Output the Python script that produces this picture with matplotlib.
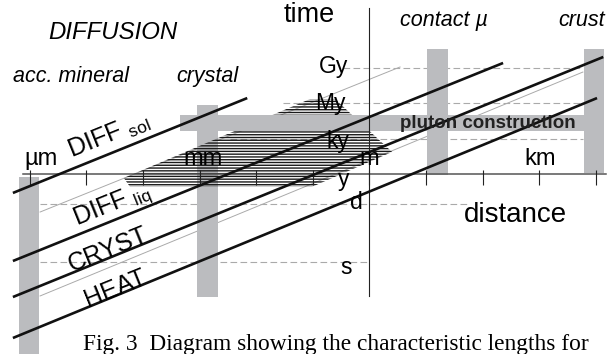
import matplotlib
matplotlib.use('Agg')
import matplotlib.pyplot as plt

plt.rcParams['font.family'] = ['Liberation Sans', 'DejaVu Sans']
plt.rcParams['mathtext.fontset'] = 'custom'
plt.rcParams['mathtext.rm'] = 'Liberation Sans'
plt.rcParams['hatch.linewidth'] = 1.0

# all coordinates are log10(distance / m) and log10(time / s)
dist_ticks = [-6, -5, -4, -3, -2, -1, 0, 1, 2, 3, 4]
dist_labels = ['µm', 'mm', 'm', 'km']
dist_label_x = [-5.80, -2.94, 0.0, 3.01]

time_labels = ['Gy', 'My', 'ky', 'y', 'd', 's']
time_label_t = [16.59, 13.53, 10.22, 7.07, 5.04, -0.40]
time_label_x = [-0.38, -0.43, -0.35, -0.35, -0.12, -0.31]

# dashed reference levels (Gy, My, ky, d, s)
level_t = [16.5, 13.5, 10.5, 4.94, 0.0]
level_x0 = [-0.47, -1.53, -2.47, -5.82, -5.82]
level_x1 = [3.77, 3.77, 3.77, 1.78, 0.0]

# characteristic length / time lines
proc_labels = ['DIFF $_{\\mathrm{sol}}$', 'DIFF $_{\\mathrm{liq}}$', 'CRYST', 'HEAT']
proc_x0 = [-6.30, -6.30, -6.30, -6.30]
proc_t0 = [5.89, 0.11, -2.95, -6.43]
proc_x1 = [-2.16, 2.36, 4.13, 4.02]
proc_t1 = [13.95, 16.93, 17.44, 13.95]
proc_label_x = [-5.26, -5.17, -5.26, -4.97]
proc_label_t = [8.86, 3.17, -0.82, -3.80]

# thin guide lines
guide_x0 = [-5.82, -5.82]
guide_t0 = [4.27, -2.86]
guide_x1 = [0.54, 3.77]
guide_t1 = [16.59, 16.16]

# length scales of the system
scale_names = ['acc. mineral', 'crystal', 'contact µ', 'crust']
scale_x = [-6.02, -2.86, 1.20, 3.97]
scale_tmin = [-8.0, -2.95, 7.41, 7.58]
scale_tmax = [7.24, 13.36, 18.11, 18.11]
scale_name_x = [-5.27, -2.87, 1.32, 3.74]
scale_name_t = [15.82, 15.82, 20.58, 20.58]

# pluton construction band
pluton_x = [-3.35, 3.80]
pluton_t = [11.15, 12.51]

# hatched field
field_x = [-4.34, -1.05, -0.61, 0.40, -1.02, -4.23]
field_t = [7.16, 13.87, 13.87, 9.37, 6.40, 6.40]

GRAY = '#bbbcbf'

fig = plt.figure(figsize=(6.16, 3.54), dpi=100)
ax = fig.add_axes([0, 0, 1, 1])
ax.set_xlim(-6.528, 4.355)
ax.set_ylim(-7.79, 22.28)
ax.axis('off')

# columns and band
heights = [b - a for a, b in zip(scale_tmin, scale_tmax)]
ax.bar(scale_x, heights, bottom=scale_tmin, width=0.36, color=GRAY, zorder=1)
ax.barh((pluton_t[0] + pluton_t[1]) / 2, pluton_x[1] - pluton_x[0],
        left=pluton_x[0], height=pluton_t[1] - pluton_t[0], color=GRAY, zorder=3)

ax.fill(field_x, field_t, facecolor='none', edgecolor='#1a1a1a',
        hatch='------', lw=0, zorder=2)

for t, x0, x1 in zip(level_t, level_x0, level_x1):
    ax.plot([x0, x1], [t, t], color='#aaaaaa', lw=0.8, ls=(0, (6, 3)), zorder=0.5)

for x0, t0, x1, t1 in zip(guide_x0, guide_t0, guide_x1, guide_t1):
    ax.plot([x0, x1], [t0, t1], color='#aaaaaa', lw=0.7, zorder=0.8)

for x0, t0, x1, t1 in zip(proc_x0, proc_t0, proc_x1, proc_t1):
    ax.plot([x0, x1], [t0, t1], color='#111111', lw=1.9, zorder=4,
            solid_capstyle='butt')

# axes
ax.plot([-6.12, 4.18], [7.5, 7.5], color='#555555', lw=1.1, zorder=3.5)
ax.vlines(dist_ticks, 6.56, 7.8, color='#222222', lw=0.8, zorder=3.5)
ax.plot([0, 0], [-2.86, 21.6], color='#222222', lw=0.8, zorder=3.5)

for lab, x in zip(dist_labels, dist_label_x):
    ax.text(x, 8.75, lab, ha='center', va='center', fontsize=17, zorder=5)
for lab, x, t in zip(time_labels, time_label_x, time_label_t):
    ax.text(x, t, lab, ha='right', va='center', fontsize=16.5, zorder=5)

for lab, x, t in zip(scale_names, scale_name_x, scale_name_t):
    ax.text(x, t, lab, ha='center', va='center', fontsize=15.5,
            style='italic', zorder=5)

for lab, x, t in zip(proc_labels, proc_label_x, proc_label_t):
    ax.text(x, t, lab, ha='left', va='baseline', fontsize=18, rotation=22,
            rotation_mode='anchor', zorder=5)

ax.text(-4.53, 19.56, 'DIFFUSION', ha='center', va='center', fontsize=17.3,
        style='italic')
ax.text(-1.07, 21.0, 'time', ha='center', va='center', fontsize=19.5)
ax.text(2.57, 4.02, 'distance', ha='center', va='center', fontsize=20)
ax.text(2.09, 11.83, 'pluton construction', ha='center', va='center',
        fontsize=13.5, fontweight='bold', color='#222222', zorder=5)

ax.text(-5.06, -7.42, 'Fig. 3  Diagram showing the characteristic lengths for',
        ha='left', va='baseline', fontsize=16.8, family='Liberation Serif')

fig.savefig('out.png', dpi=100)
